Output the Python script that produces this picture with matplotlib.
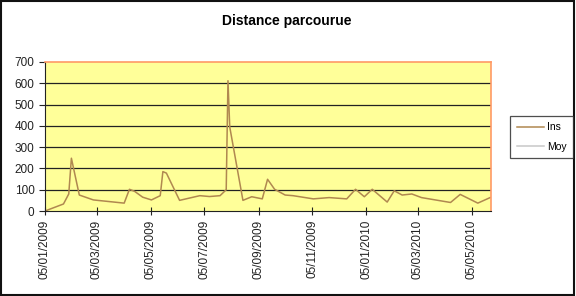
import matplotlib
matplotlib.use("Agg")
import matplotlib.pyplot as plt
import matplotlib.dates as mdates
import numpy as np
import datetime as dt

plt.rcParams['font.family'] = ['Liberation Sans', 'DejaVu Sans']

# days since 05/01/2009 and distance (Ins)
start = dt.date(2009, 1, 5)
days = [0, 21, 27, 30, 39, 55, 90, 96, 102, 111, 121, 131, 134, 138, 153,
        176, 187, 199, 206, 208, 210, 225, 235, 247, 253, 261, 273, 282,
        305, 323, 343, 353, 363, 372, 389, 397, 406, 417, 428, 461, 472,
        492, 506]
ins = [0, 33, 80, 248, 75, 52, 37, 102, 92, 65, 52, 72, 185, 178, 50,
       72, 68, 72, 100, 612, 395, 50, 67, 57, 149, 102, 75, 72,
       57, 63, 57, 102, 67, 102, 42, 95, 75, 80, 63, 40, 78,
       37, 63]
dates = [start + dt.timedelta(days=d) for d in days]

tick_dates = [dt.date(2009, 1, 5), dt.date(2009, 3, 5), dt.date(2009, 5, 5),
              dt.date(2009, 7, 5), dt.date(2009, 9, 5), dt.date(2009, 11, 5),
              dt.date(2010, 1, 5), dt.date(2010, 3, 5), dt.date(2010, 5, 5)]
yticks = [0, 100, 200, 300, 400, 500, 600, 700]

fig = plt.figure(figsize=(5.76, 2.96), dpi=100)
ax = fig.add_axes([45 / 576, 1 - 211 / 296, 446 / 576, 149 / 296])
ax.set_facecolor('#FFFF99')

ax.plot(dates, ins, color='#B08850', linewidth=1.1, label='Ins')
ax.plot([], [], color='#C8C8C8', linewidth=1.1, label='Moy')

ax.set_xlim(start, start + dt.timedelta(days=507))
ax.set_ylim(0, 700)
ax.set_yticks(yticks)
for y in yticks[1:-1]:
    ax.axhline(y, color='#222222', linewidth=0.9, zorder=1)

ax.set_xticks(tick_dates)
ax.xaxis.set_major_formatter(mdates.DateFormatter('%d/%m/%Y'))
plt.setp(ax.get_xticklabels(), rotation=90)
ax.tick_params(axis='both', labelsize=8.5, length=4, width=0.8,
               direction='out', colors='#222222')
ax.tick_params(axis='x', direction='inout', length=6)

ax.spines['top'].set_color('#FF9966')
ax.spines['right'].set_color('#FF9966')
ax.spines['top'].set_linewidth(1.2)
ax.spines['right'].set_linewidth(1.2)
ax.spines['left'].set_color('#222222')
ax.spines['bottom'].set_color('#222222')

fig.text(287 / 576, 1 - 21 / 296, 'Distance parcourue', ha='center',
         va='center', fontsize=10, fontweight='bold')

leg = fig.legend(loc='center', bbox_to_anchor=(541.5 / 576, 1 - 137 / 296),
                 fontsize=7.5, frameon=True, fancybox=False,
                 handlelength=2.6, handletextpad=0.3, borderpad=0.6,
                 labelspacing=0.9)
leg.get_frame().set_edgecolor('#222222')
leg.get_frame().set_linewidth(0.9)

fig.patches.append(plt.Rectangle((0.002, 0.003), 0.995, 0.994,
                                 transform=fig.transFigure, fill=False,
                                 edgecolor='#111111', linewidth=1.5))

fig.savefig('out.png', dpi=100)
